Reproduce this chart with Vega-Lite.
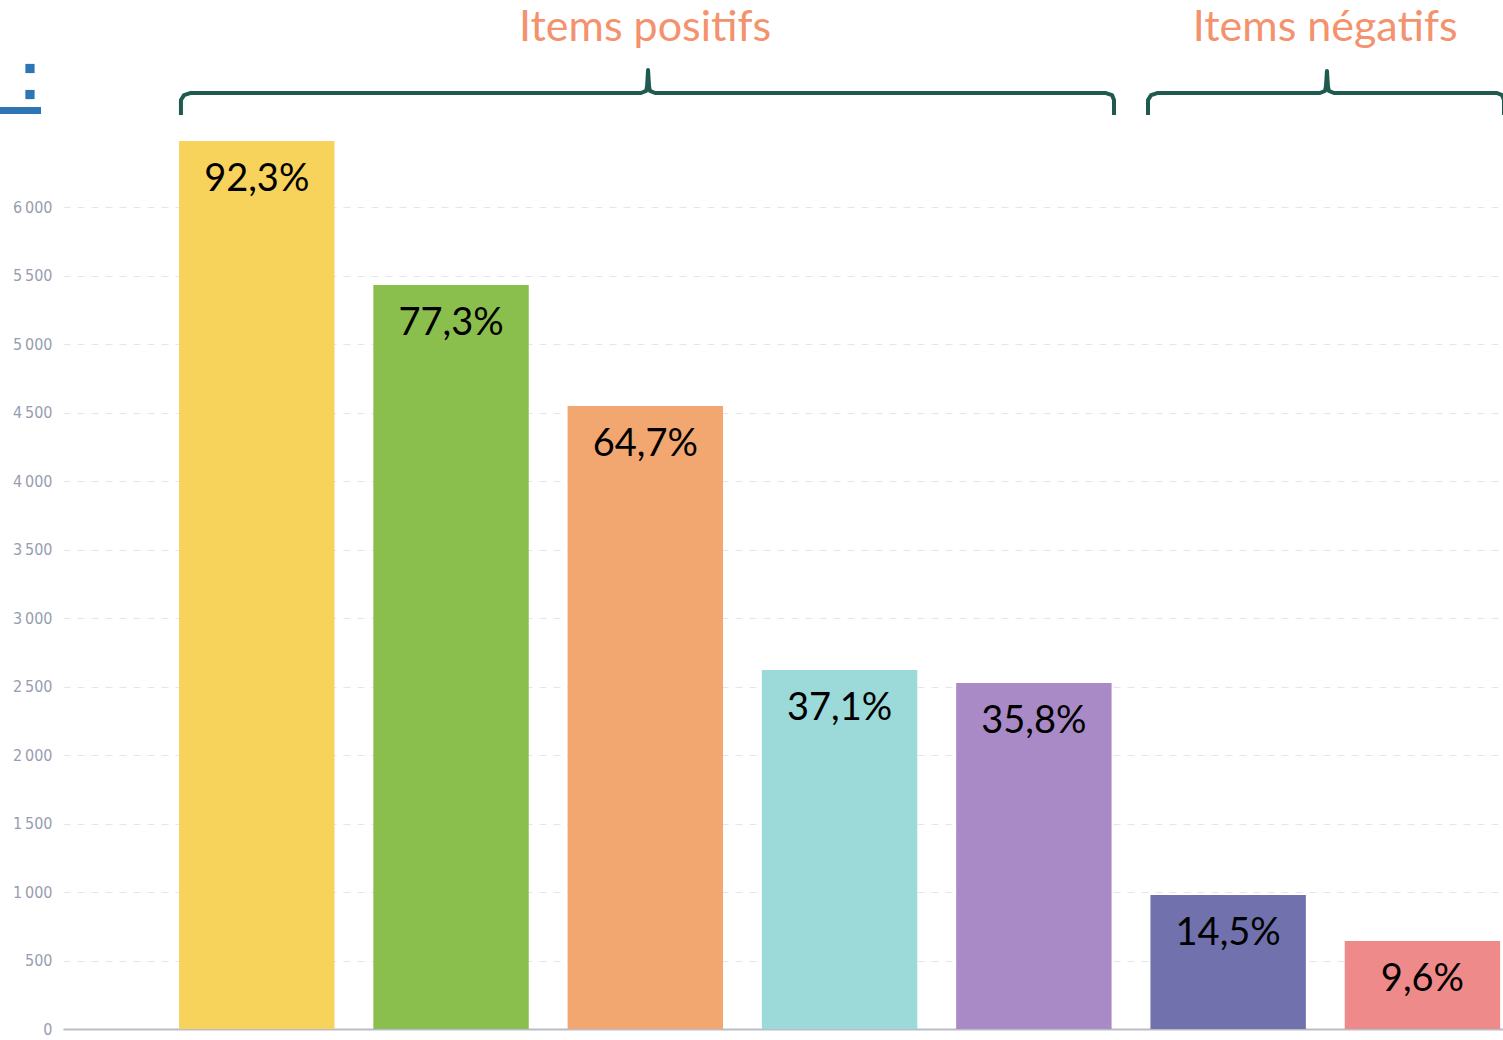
{
  "$schema": "https://vega.github.io/schema/vega-lite/v6.json",
  "width": 1440,
  "height": 1029,
  "autosize": {"type": "none"},
  "padding": {"left": 63, "top": 0, "right": 0, "bottom": 11},
  "background": "white",
  "config": {"view": {"stroke": null}},
  "datasets": {
    "bars": [
      {"item": "A", "value": 6482, "pct": "92,3%"},
      {"item": "B", "value": 5431, "pct": "77,3%"},
      {"item": "C", "value": 4547, "pct": "64,7%"},
      {"item": "D", "value": 2620, "pct": "37,1%"},
      {"item": "E", "value": 2526, "pct": "35,8%"},
      {"item": "F", "value": 978, "pct": "14,5%"},
      {"item": "G", "value": 642, "pct": "9,6%"}
    ],
    "braces": [
      {"b": 1, "k": 0, "x": -0.389, "y": 6671},
      {"b": 1, "k": 1, "x": -0.389, "y": 6781},
      {"b": 1, "k": 2, "x": -0.373, "y": 6817},
      {"b": 1, "k": 3, "x": -0.342, "y": 6832},
      {"b": 1, "k": 4, "x": 1.979, "y": 6832},
      {"b": 1, "k": 5, "x": 2.005, "y": 6847},
      {"b": 1, "k": 6, "x": 2.010, "y": 6883},
      {"b": 1, "k": 7, "x": 2.015, "y": 7000},
      {"b": 1, "k": 8, "x": 2.020, "y": 6883},
      {"b": 1, "k": 9, "x": 2.025, "y": 6847},
      {"b": 1, "k": 10, "x": 2.051, "y": 6832},
      {"b": 1, "k": 11, "x": 4.372, "y": 6832},
      {"b": 1, "k": 12, "x": 4.403, "y": 6817},
      {"b": 1, "k": 13, "x": 4.413, "y": 6781},
      {"b": 1, "k": 14, "x": 4.413, "y": 6671},
      {"b": 2, "k": 0, "x": 4.588, "y": 6671},
      {"b": 2, "k": 1, "x": 4.588, "y": 6781},
      {"b": 2, "k": 2, "x": 4.604, "y": 6817},
      {"b": 2, "k": 3, "x": 4.635, "y": 6832},
      {"b": 2, "k": 4, "x": 5.473, "y": 6832},
      {"b": 2, "k": 5, "x": 5.499, "y": 6847},
      {"b": 2, "k": 6, "x": 5.504, "y": 6883},
      {"b": 2, "k": 7, "x": 5.509, "y": 6993},
      {"b": 2, "k": 8, "x": 5.514, "y": 6883},
      {"b": 2, "k": 9, "x": 5.519, "y": 6847},
      {"b": 2, "k": 10, "x": 5.545, "y": 6832},
      {"b": 2, "k": 11, "x": 6.384, "y": 6832},
      {"b": 2, "k": 12, "x": 6.410, "y": 6817},
      {"b": 2, "k": 13, "x": 6.420, "y": 6781},
      {"b": 2, "k": 14, "x": 6.420, "y": 6671}
    ],
    "titles": [
      {"text": "Items positifs", "x": 2.0, "y": 7211},
      {"text": "Items négatifs", "x": 5.5, "y": 7211}
    ],
    "colon": [
      {"x": -1.166, "y": 7011},
      {"x": -1.166, "y": 6821}
    ],
    "underline": [
      {"x": -1.33, "x2": -1.109, "y": 6704}
    ]
  },
  "layer": [
    {
      "data": {"name": "bars"},
      "encoding": {
        "x": {
          "field": "item",
          "type": "nominal",
          "sort": null,
          "scale": {"paddingInner": 0.2, "paddingOuter": 0.306, "align": 0.976},
          "axis": {"labels": false, "ticks": false, "title": null, "domainColor": "#B9BDC9", "domainWidth": 2}
        },
        "y": {
          "field": "value",
          "type": "quantitative",
          "scale": {"domain": [0, 7511], "nice": false, "zero": true},
          "axis": {
            "values": [0, 500, 1000, 1500, 2000, 2500, 3000, 3500, 4000, 4500, 5000, 5500, 6000],
            "labelExpr": "replace(format(datum.value, ','), ',', '\u2009')",
            "labelFont": "Liberation Sans Narrow, DejaVu Sans Condensed, sans-serif",
            "labelFontSize": 16,
            "labelColor": "#979DAF",
            "labelPadding": 11,
            "ticks": false,
            "domain": false,
            "grid": true,
            "gridDash": [7, 7],
            "gridColor": "#E4E6EC",
            "gridWidth": 1,
            "title": null
          }
        }
      },
      "layer": [
        {
          "mark": {"type": "bar"},
          "encoding": {
            "color": {
              "field": "item",
              "type": "nominal",
              "scale": {
                "domain": ["A", "B", "C", "D", "E", "F", "G"],
                "range": ["#F7D35C", "#8BBF4D", "#F2A771", "#9BDAD9", "#A98AC6", "#7171AD", "#EF8A8A"]
              },
              "legend": null
            }
          }
        },
        {
          "mark": {"type": "text", "baseline": "middle", "align": "center", "dy": 39, "font": "Lato", "fontSize": 38, "color": "#000000"},
          "encoding": {"text": {"field": "pct"}}
        }
      ]
    },
    {
      "data": {"name": "braces"},
      "mark": {"type": "line", "stroke": "#1F5A4F", "strokeWidth": 4, "strokeJoin": "round"},
      "encoding": {
        "x": {"field": "x", "type": "quantitative", "scale": {"domain": [-0.996, 6.415], "nice": false, "zero": false}, "axis": null},
        "y": {"field": "y", "type": "quantitative", "scale": {"domain": [0, 7511], "nice": false}},
        "detail": {"field": "b"},
        "order": {"field": "k", "type": "quantitative"}
      }
    },
    {
      "data": {"name": "titles"},
      "mark": {"type": "text", "font": "Lato", "fontSize": 43, "color": "#F3926C", "align": "center", "baseline": "alphabetic"},
      "encoding": {
        "x": {"field": "x", "type": "quantitative", "scale": {"domain": [-0.996, 6.415], "nice": false, "zero": false}, "axis": null},
        "y": {"field": "y", "type": "quantitative", "scale": {"domain": [0, 7511], "nice": false}},
        "text": {"field": "text"}
      }
    },
    {
      "data": {"name": "colon"},
      "mark": {"type": "point", "shape": "square", "filled": true, "size": 85, "color": "#2E75B6", "opacity": 1},
      "encoding": {
        "x": {"field": "x", "type": "quantitative", "scale": {"domain": [-0.996, 6.415], "nice": false, "zero": false}, "axis": null},
        "y": {"field": "y", "type": "quantitative", "scale": {"domain": [0, 7511], "nice": false}}
      }
    },
    {
      "data": {"name": "underline"},
      "mark": {"type": "rule", "color": "#2E75B6", "strokeWidth": 7},
      "encoding": {
        "x": {"field": "x", "type": "quantitative", "scale": {"domain": [-0.996, 6.415], "nice": false, "zero": false}, "axis": null},
        "x2": {"field": "x2"},
        "y": {"field": "y", "type": "quantitative", "scale": {"domain": [0, 7511], "nice": false}}
      }
    }
  ],
  "resolve": {"scale": {"x": "independent"}}
}
